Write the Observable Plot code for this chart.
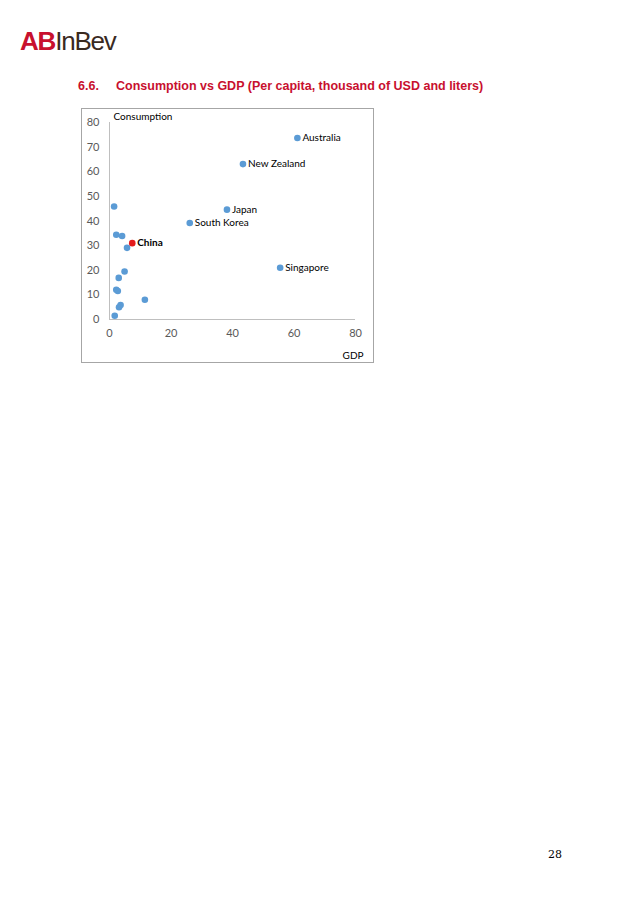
<!DOCTYPE html>
<html><head><meta charset="utf-8">
<script src="https://cdn.jsdelivr.net/npm/d3@7"></script>
<script src="https://cdn.jsdelivr.net/npm/@observablehq/plot@0.6"></script>
<style>
html,body{margin:0;padding:0;background:#fff;}
body{width:638px;height:903px;position:relative;overflow:hidden;font-family:Lato,"Open Sans",sans-serif;}
#logo{position:absolute;left:20px;top:28px;font-family:"Liberation Sans",Arial,sans-serif;font-size:26px;letter-spacing:-1.2px;line-height:1;}
#logo .ab{color:#c8102e;font-weight:bold;}
#logo .ib{color:#3a2a1f;}
#title{position:absolute;left:78px;top:79px;font-family:"Liberation Sans Narrow","Liberation Sans",Arial,sans-serif;font-weight:bold;font-size:12.5px;color:#c8102e;white-space:nowrap;}
#title .num{display:inline-block;width:38px;}
#frame{position:absolute;left:81px;top:108px;width:291px;height:253px;border:1px solid #a6a6a6;}
#chart{position:absolute;left:81px;top:108px;}
#page{position:absolute;left:548px;top:848px;font-family:"DejaVu Serif","Liberation Serif",serif;font-size:11px;color:#000;}
</style></head><body>
<div id="logo"><span class="ab">AB</span><span class="ib">InBev</span></div>
<div id="title"><span class="num">6.6.</span>Consumption vs GDP (Per capita, thousand of USD and liters)</div>
<div id="frame"></div>
<div id="chart"></div>
<div id="page">28</div>
<script>
const countries = ["Australia","New Zealand","Japan","South Korea","Singapore","China","","","","","","","","","","","",""];
const gdp = [61.1,43.4,38.2,26.1,55.5,7.4,1.5,2.2,4.1,5.7,4.9,3.0,2.2,2.7,11.5,3.6,3.1,1.7];
const consumption = [73.7,63.1,44.6,39.2,21.0,31.0,45.9,34.4,33.9,29.1,19.5,16.9,12.1,11.6,8.0,5.9,5.0,1.5];
const xTicks = [0,20,40,60,80];
const yTicks = [0,10,20,30,40,50,60,70,80];

const data = gdp.map((g,i)=>({gdp:g, cons:consumption[i], name:countries[i], china:countries[i]==="China"}));

const chart = Plot.plot({
  width: 293, height: 255,
  marginLeft: 28, marginRight: 19, marginTop: 14, marginBottom: 44,
  style:{fontFamily:"Lato, 'Open Sans', sans-serif", fontSize:"11px", background:"transparent", overflow:"visible"},
  x:{domain:[0,80], ticks:xTicks, tickSize:0, tickPadding:10, label:null},
  y:{domain:[0,80], ticks:yTicks, tickSize:0, tickPadding:10, label:null},
  marks:[
    Plot.axisX({ticks:xTicks, tickSize:0, tickPadding:10, color:"#595959", fontSize:11, label:null}),
    Plot.axisY({ticks:yTicks, tickSize:0, tickPadding:10, color:"#595959", fontSize:11, label:null}),
    Plot.ruleX([0],{stroke:"#bfbfbf"}),
    Plot.ruleY([0],{stroke:"#bfbfbf"}),
    Plot.dot(data.filter(d=>!d.china),{x:"gdp", y:"cons", r:3.3, fill:"#5b9bd5", stroke:"none"}),
    Plot.dot(data.filter(d=>d.china),{x:"gdp", y:"cons", r:3.3, fill:"#e31a1c", stroke:"none"}),
    Plot.text(data.filter(d=>d.name && !d.china),{x:"gdp", y:"cons", text:"name", dx:5, textAnchor:"start", fill:"#000", fontSize:10}),
    Plot.text(data.filter(d=>d.china),{x:"gdp", y:"cons", text:"name", dx:5, textAnchor:"start", fill:"#000", fontSize:10, fontWeight:"bold"}),
    Plot.text(["Consumption"],{frameAnchor:"top-left", lineAnchor:"middle", dx:4, dy:-6, fill:"#000", fontSize:10, textAnchor:"start"}),
    Plot.text(["GDP"],{frameAnchor:"bottom-right", lineAnchor:"middle", dy:36, dx:8, fill:"#000", fontSize:10, textAnchor:"end"})
  ]
});
document.getElementById("chart").appendChild(chart);
</script>
</body></html>
